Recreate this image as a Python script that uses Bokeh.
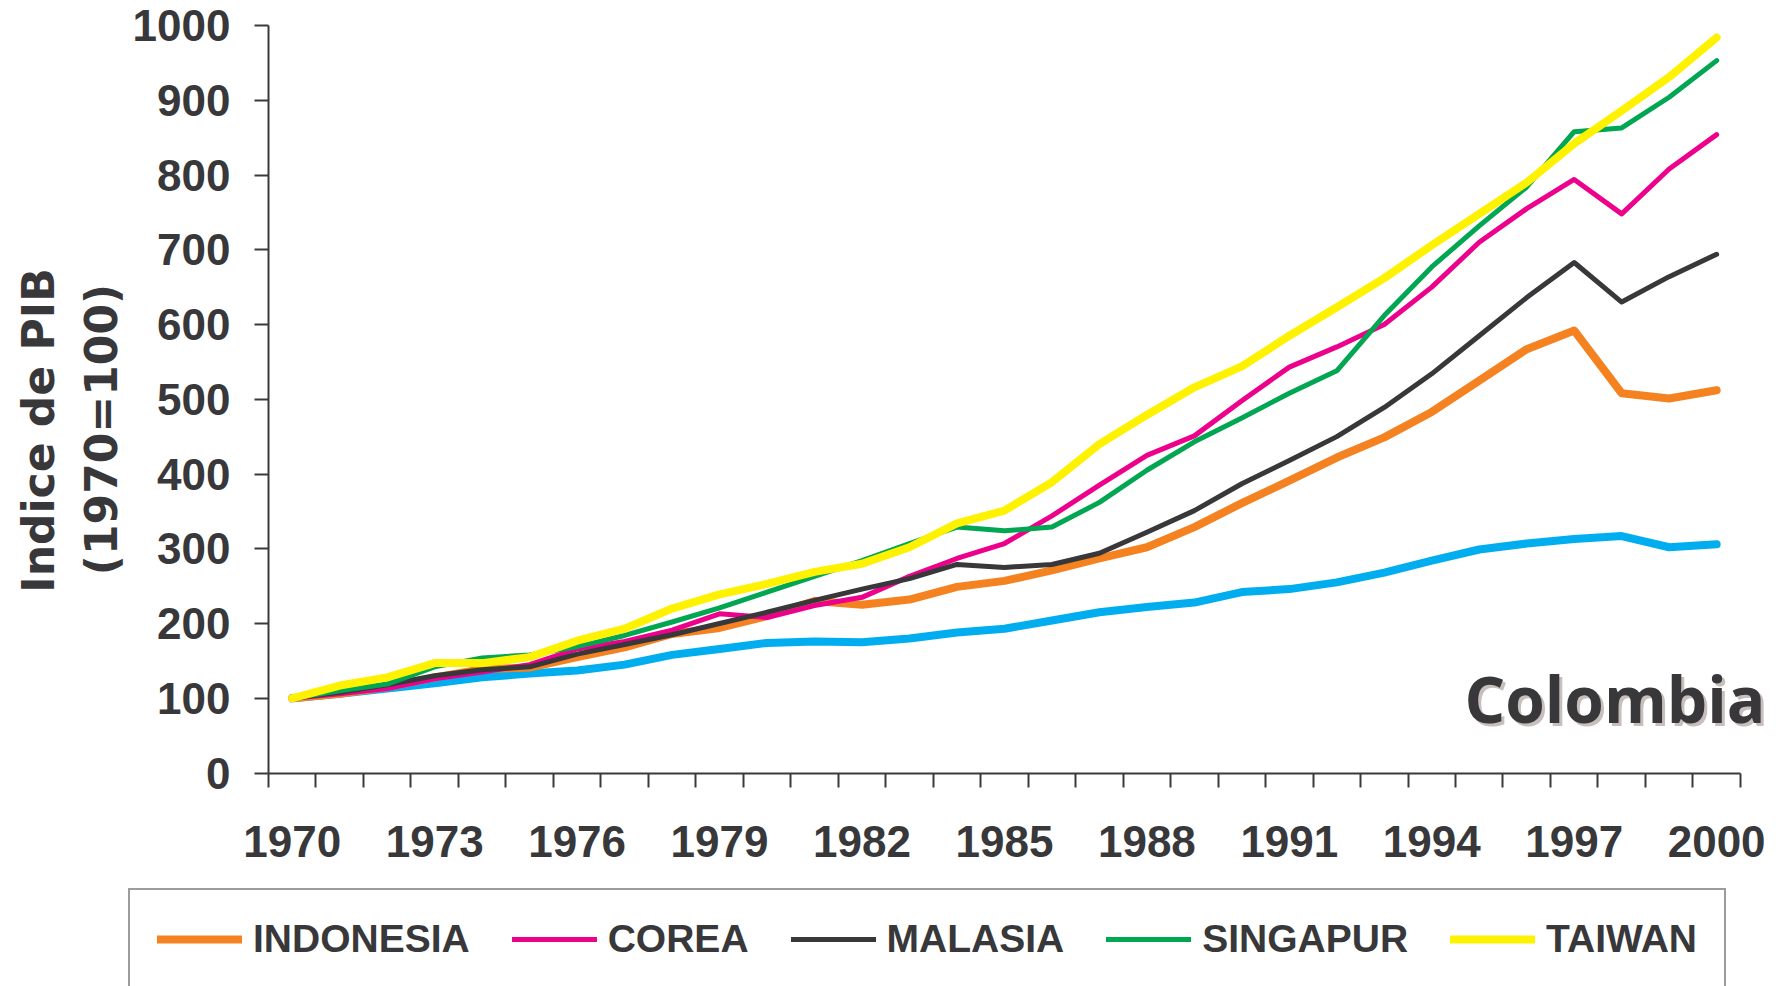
import math
from bokeh.plotting import figure
from bokeh.models import Range1d, FixedTicker, Legend, LegendItem, Label
from bokeh.embed import file_html
from bokeh.resources import INLINE

# ---------------- data ----------------
years = list(range(1970, 2001))
indonesia = [100, 106, 115, 128, 139, 141, 155, 168, 186, 194, 210, 230, 225, 232, 249, 257,
             271, 287, 302, 329, 361, 391, 422, 449, 483, 525, 567, 592, 508, 501, 512]
corea = [100, 106, 113, 126, 135, 145, 166, 176, 191, 213, 208, 224, 235, 263, 287, 307,
         344, 385, 425, 451, 498, 543, 570, 600, 650, 710, 755, 794, 748, 808, 854]
malasia = [100, 108, 118, 130, 138, 142, 159, 172, 185, 200, 215, 231, 246, 260, 279, 275,
           279, 294, 322, 351, 387, 418, 450, 489, 534, 585, 636, 683, 630, 664, 694]
singapur = [100, 110, 119, 142, 154, 158, 169, 184, 202, 221, 242, 263, 284, 307, 329, 324,
            329, 362, 405, 443, 475, 508, 538, 612, 677, 732, 784, 858, 863, 904, 953]
taiwan = [100, 117, 128, 147, 147, 155, 177, 193, 220, 239, 253, 269, 280, 302, 334, 351,
          389, 440, 479, 516, 544, 585, 623, 662, 706, 748, 790, 842, 886, 931, 984]
colombia = [100, 106, 113, 120, 128, 133, 137, 145, 158, 166, 174, 176, 175, 180, 188, 193,
            204, 215, 222, 228, 242, 246, 255, 268, 284, 299, 307, 313, 317, 302, 306]

series_names = ["INDONESIA", "COREA", "MALASIA", "SINGAPUR", "TAIWAN"]
x_label_years = list(range(1970, 2001, 3))
y_ticks = list(range(0, 1001, 100))
y_title_lines = ["Indice de PIB", "(1970=100)"]
country_label = "Colombia"

# ---------------- layout (pixels) ----------------
W, H = 1768, 986
AXIS_X_PX = 268.0        # x pixel of the y axis (left edge of first year slot)
PX_PER_YEAR = 47.48
Y_TOP_PX, Y_ZERO_PX = 25.0, 772.5
PX_PER_UNIT = (Y_ZERO_PX - Y_TOP_PX) / 1000.0

x0 = years[0] - 0.5 - AXIS_X_PX / PX_PER_YEAR
x1 = x0 + W / PX_PER_YEAR
y1 = 1000 + Y_TOP_PX / PX_PER_UNIT
y0 = -(H - Y_ZERO_PX) / PX_PER_UNIT


def px_x(px):
    return x0 + px / PX_PER_YEAR


def px_y(py):
    return (Y_ZERO_PX - py) / PX_PER_UNIT


TXT = "#38383b"
AX = "#3a3a3c"
colors = {"INDONESIA": "#F58220", "COREA": "#EC008C", "MALASIA": "#38383b",
          "SINGAPUR": "#00A651", "TAIWAN": "#FFF200"}
widths = {"INDONESIA": 8, "COREA": 5, "MALASIA": 5, "SINGAPUR": 5, "TAIWAN": 8}

p = figure(width=W, height=H, output_backend="svg", toolbar_location=None,
           x_range=Range1d(x0, x1), y_range=Range1d(y0, y1),
           min_border_left=0, min_border_right=0, min_border_top=0, min_border_bottom=0)
p.outline_line_color = None
p.grid.visible = False
p.background_fill_color = "white"
p.border_fill_color = "white"

# y axis (fixed at the first slot boundary)
ya = p.yaxis[0]
ya.fixed_location = years[0] - 0.5
ya.bounds = (0, 1000)
ya.ticker = FixedTicker(ticks=y_ticks)
ya.major_label_text_font = "Liberation Sans"
ya.major_label_text_font_style = "bold"
ya.major_label_text_font_size = "44px"
ya.major_label_text_color = TXT
ya.major_tick_out = 14
ya.major_tick_in = 0
ya.minor_tick_line_color = None
ya.major_label_standoff = 24
ya.axis_line_width = 2
ya.axis_line_color = AX
ya.major_tick_line_width = 2
ya.major_tick_line_color = AX

# x axis: labels every 3 years at slot centres, ticks at slot boundaries
xa = p.xaxis[0]
xa.fixed_location = 0
xa.bounds = (years[0] - 0.5, years[-1] + 0.5)
xa.ticker = FixedTicker(ticks=x_label_years,
                        minor_ticks=[y - 0.5 for y in years] + [years[-1] + 0.5])
xa.major_tick_line_color = None
xa.major_tick_out = 0
xa.major_tick_in = 0
xa.minor_tick_out = 14
xa.minor_tick_in = 0
xa.minor_tick_line_width = 2
xa.minor_tick_line_color = AX
xa.axis_line_width = 2
xa.axis_line_color = AX
xa.major_label_text_font = "Liberation Sans"
xa.major_label_text_font_style = "bold"
xa.major_label_text_font_size = "44px"
xa.major_label_text_color = TXT
xa.major_label_standoff = 39

# lines
p.line(years, colombia, line_color="#00AEEF", line_width=8,
       line_join="round", line_cap="round")
renderers = {}
for name, vals in zip(series_names, [indonesia, corea, malasia, singapur, taiwan]):
    renderers[name] = p.line(years, vals, line_color=colors[name], line_width=widths[name],
                             line_join="round", line_cap="round")

legend = Legend(items=[LegendItem(label=n, renderers=[renderers[n]]) for n in series_names],
                orientation="horizontal", location=(128, -4), padding=27, spacing=42,
                glyph_width=85, glyph_height=20, label_standoff=11, margin=0,
                label_text_font="Liberation Sans", label_text_font_style="bold",
                label_text_font_size="39px", label_text_color=TXT,
                border_line_color=AX, border_line_width=2.5,
                background_fill_color="white", background_fill_alpha=1.0)
p.add_layout(legend)

# y axis title (two rotated lines)
for line_text, cx, cy in [(y_title_lines[0], 37.5, 430.0), (y_title_lines[1], 101.0, 429.0)]:
    p.add_layout(Label(x=px_x(cx), y=px_y(cy), text=line_text, angle=math.pi / 2,
                       text_align="center", text_baseline="middle",
                       text_font="DejaVu Sans", text_font_style="bold",
                       text_font_size="44px", text_color=TXT))

# country label with drop shadow
for color, dx, dy in [("#c8bebb", 3, -3), (TXT, 0, 0)]:
    p.add_layout(Label(x=px_x(1765), y=px_y(698), text=country_label, text_align="right",
                       text_baseline="alphabetic", text_font="Open Sans",
                       text_font_style="bold", text_font_size="64px", text_color=color,
                       x_offset=dx, y_offset=dy))

open("out.html", "w").write(file_html(p, INLINE))
